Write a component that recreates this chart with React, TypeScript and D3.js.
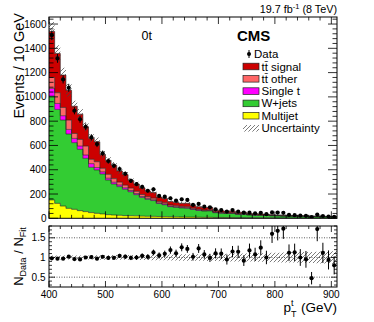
import React from "react";
import * as d3 from "d3";

// bin lower edges (GeV), 10 GeV bins from 400 to 910
const binLow: number[] = d3.range(400, 910, 10);

const dataCounts = [1508,1317,1144,1075,886,815,754,667,611,535,472,433,406,367,309,282,260,227,239,184,178,165,145,156,151,110,118,96,90,74,68,55,68,55,46,46,41,45,34,48,47,45,28,26,22,20,9,31,19,15,12];
const multijet = [151,123,101,82,74,63,55,47,41,36,30,27,25,22,21,20,18,17,16,15,14,13,12,11,10,10,9,8,8,7,7,6,6,5,5,5,4,4,4,4,3,3,3,3,3,2,2,2,2,2,2];
const wjets = [856,774,708,612,549,505,439,373,357,329,285,256,236,217,198,175,154,139,130,107,98,83,78,74,73,63,56,52,53,39,35,34,34,28,29,22,22,21,20,17,17,15,15,13,13,13,12,11,10,10,9];
const singleT = [63,49,36,38,35,27,27,30,20,17,15,14,13,12,10,9,8,8,7,6,6,5,5,5,4,4,4,3,3,3,2,2,2,2,2,2,1,1,1,1,1,1,1,1,1,1,1,1,1,1,1];
const ttOther = [90,88,68,77,41,55,74,36,48,30,32,30,24,22,20,18,16,14,13,11,10,9,8,8,8,7,6,6,6,4,4,4,4,3,3,3,3,2,2,2,2,2,2,2,2,2,1,1,1,1,1];
const ttSignal = [379,324,267,245,224,208,159,174,164,113,115,110,92,87,63,60,54,45,46,36,35,29,28,26,29,24,21,20,21,14,14,12,13,10,11,7,8,8,7,6,5,5,4,4,3,3,3,3,3,2,2];
const relUnc = [0.05,0.05,0.05,0.05,0.05,0.05,0.05,0.05,0.055,0.055,0.055,0.06,0.06,0.06,0.06,0.065,0.065,0.065,0.07,0.07,0.07,0.075,0.075,0.08,0.08,0.08,0.085,0.085,0.09,0.09,0.095,0.095,0.1,0.1,0.1,0.105,0.11,0.11,0.115,0.12,0.12,0.125,0.13,0.13,0.135,0.14,0.14,0.145,0.15,0.155,0.16];

const seriesKeys = ["multijet", "wjets", "singleT", "ttOther", "ttSignal"];
const seriesColors: Record<string, string> = {
  multijet: "#ffff00",
  wjets: "#33cc33",
  singleT: "#ff00ff",
  ttOther: "#ff6666",
  ttSignal: "#cc0000",
};
const legendItems = [
  { label: "tt\u0304 signal", key: "ttSignal" },
  { label: "tt\u0304 other", key: "ttOther" },
  { label: "Single t", key: "singleT" },
  { label: "W+jets", key: "wjets" },
  { label: "Multijet", key: "multijet" },
];
const yMainTicks = [0, 200, 400, 600, 800, 1000, 1200, 1400, 1600];
const yRatioTicks = [0.5, 1, 1.5];
const xTicks = [400, 500, 600, 700, 800, 900];

const FONT = "'Liberation Sans', Arial, Helvetica, sans-serif";

export default function App() {
  const X0 = 49, X1 = 337;
  const x = d3.scaleLinear().domain([400, 910]).range([X0, X1]);
  const y = d3.scaleLinear().domain([0, 1658]).range([218.3, 17]);
  const yr = d3.scaleLinear().domain([0.25, 1.8]).range([287, 226]);

  const rows = binLow.map((lo, i) => ({
    lo,
    multijet: multijet[i],
    wjets: wjets[i],
    singleT: singleT[i],
    ttOther: ttOther[i],
    ttSignal: ttSignal[i],
  }));
  const total = rows.map((r) => r.multijet + r.wjets + r.singleT + r.ttOther + r.ttSignal);
  const stacked = d3.stack<any>().keys(seriesKeys)(rows);

  const withEnd = (pts: [number, number, number][]) => [...pts, [910, pts[pts.length - 1][1], pts[pts.length - 1][2]] as [number, number, number]];

  const areaMain = d3.area<[number, number, number]>()
    .curve(d3.curveStepAfter)
    .x((d) => x(d[0]))
    .y0((d) => y(d[1]))
    .y1((d) => y(d[2]));
  const lineMain = d3.line<[number, number, number]>()
    .curve(d3.curveStepAfter)
    .x((d) => x(d[0]))
    .y((d) => y(d[2]));
  const areaRatio = d3.area<[number, number, number]>()
    .curve(d3.curveStepAfter)
    .x((d) => x(d[0]))
    .y0((d) => yr(d[1]))
    .y1((d) => yr(d[2]));

  const layers = stacked.map((s) => ({
    key: s.key,
    pts: withEnd(s.map((d, i) => [binLow[i], d[0], d[1]] as [number, number, number])),
  }));
  const uncPts = withEnd(binLow.map((lo, i) => [lo, total[i] * (1 - relUnc[i]), total[i] * (1 + relUnc[i])] as [number, number, number]));
  const ratioUncPts = withEnd(binLow.map((lo, i) => [lo, 1 - relUnc[i], 1 + relUnc[i]] as [number, number, number]));

  const minorX = d3.range(400, 911, 20);
  const minorYMain = d3.range(0, 1658, 40);
  const minorYRatio = d3.range(0.3, 1.8001, 0.1);

  return (
    <svg width={374} height={322} style={{ display: "block", position: "absolute", left: 0, top: 0 }} fontFamily={FONT}>
      <defs>
        <pattern id="hatch" patternUnits="userSpaceOnUse" width={4} height={4}>
          <path d="M-1,1 l2,-2 M0,4 l4,-4 M3,5 l2,-2" stroke="#444" strokeWidth={0.7} />
        </pattern>
        <clipPath id="clipMain"><rect x={X0} y={17} width={X1 - X0} height={218.3 - 17} /></clipPath>
        <clipPath id="clipRatio"><rect x={X0} y={226} width={X1 - X0} height={61} /></clipPath>
      </defs>
      <rect width={374} height={322} fill="#fff" />

      {/* main stack */}
      <g clipPath="url(#clipMain)">
        {layers.map((l) => (
          <path key={l.key} d={areaMain(l.pts) || ""} fill={seriesColors[l.key]} />
        ))}
        {layers.map((l) => (
          <path key={l.key + "o"} d={lineMain(l.pts) || ""} fill="none" stroke="#222" strokeWidth={0.6} />
        ))}
        <path d={areaMain(uncPts) || ""} fill="url(#hatch)" />
        {dataCounts.map((d, i) => {
          const cx = x(binLow[i] + 5);
          const e = Math.sqrt(d);
          return (
            <g key={i}>
              <line x1={cx} x2={cx} y1={y(d - e)} y2={y(d + e)} stroke="#000" strokeWidth={1} />
              <circle cx={cx} cy={y(d)} r={2.1} fill="#000" />
            </g>
          );
        })}
      </g>
      <rect x={X0} y={17} width={X1 - X0} height={218.3 - 17} fill="none" stroke="#000" strokeWidth={1} />

      {/* main ticks */}
      {minorYMain.map((v) => {
        const major = v % 200 === 0;
        const L = major ? 9 : 4.5;
        return (
          <g key={"ym" + v}>
            <line x1={X0} x2={X0 + L} y1={y(v)} y2={y(v)} stroke="#000" strokeWidth={0.8} />
            <line x1={X1} x2={X1 - L} y1={y(v)} y2={y(v)} stroke="#000" strokeWidth={0.8} />
          </g>
        );
      })}
      {minorX.map((v) => {
        const major = v % 100 === 0;
        const L = major ? 7 : 3.5;
        return (
          <g key={"xm" + v}>
            <line x1={x(v)} x2={x(v)} y1={218.3} y2={218.3 - L} stroke="#000" strokeWidth={0.8} />
            <line x1={x(v)} x2={x(v)} y1={17} y2={17 + L} stroke="#000" strokeWidth={0.8} />
          </g>
        );
      })}
      {yMainTicks.map((v) => (
        <text key={"yl" + v} x={46.5} y={y(v)} dy="0.35em" textAnchor="end" fontSize={10}>{v}</text>
      ))}

      {/* ratio panel */}
      <g clipPath="url(#clipRatio)">
        {yRatioTicks.map((v) => (
          <line key={"dl" + v} x1={X0} x2={X1} y1={yr(v)} y2={yr(v)} stroke="#333" strokeWidth={0.8} strokeDasharray="1,1.5" />
        ))}
        <path d={areaRatio(ratioUncPts) || ""} fill="url(#hatch)" />
        {dataCounts.map((d, i) => {
          const cx = x(binLow[i] + 5);
          const r = d / total[i];
          const e = Math.sqrt(d) / total[i];
          return (
            <g key={"r" + i}>
              <line x1={cx} x2={cx} y1={yr(r - e)} y2={yr(r + e)} stroke="#000" strokeWidth={1} />
              <circle cx={cx} cy={yr(r)} r={2.1} fill="#000" />
            </g>
          );
        })}
      </g>
      <rect x={X0} y={226} width={X1 - X0} height={61} fill="none" stroke="#000" strokeWidth={1} />
      {minorYRatio.map((v) => {
        const major = Math.abs(v * 2 - Math.round(v * 2)) < 1e-6;
        const L = major ? 6 : 3;
        return (
          <g key={"yr" + v.toFixed(2)}>
            <line x1={X0} x2={X0 + L} y1={yr(v)} y2={yr(v)} stroke="#000" strokeWidth={0.8} />
            <line x1={X1} x2={X1 - L} y1={yr(v)} y2={yr(v)} stroke="#000" strokeWidth={0.8} />
          </g>
        );
      })}
      {minorX.map((v) => {
        const major = v % 100 === 0;
        const L = major ? 6 : 3;
        return (
          <g key={"xr" + v}>
            <line x1={x(v)} x2={x(v)} y1={287} y2={287 - L} stroke="#000" strokeWidth={0.8} />
            <line x1={x(v)} x2={x(v)} y1={226} y2={226 + L} stroke="#000" strokeWidth={0.8} />
          </g>
        );
      })}
      {yRatioTicks.map((v) => (
        <text key={"rl" + v} x={45.5} y={yr(v)} dy="0.35em" textAnchor="end" fontSize={10}>{v}</text>
      ))}
      {xTicks.map((v) => (
        <text key={"xl" + v} x={x(v)} y={298} textAnchor="middle" fontSize={10}>{v}</text>
      ))}

      {/* axis titles */}
      <text transform="translate(23.5,13) rotate(-90)" textAnchor="end" fontSize={14.5}>Events / 10 GeV</text>
      <text transform="translate(23,256.5) rotate(-90)" textAnchor="middle" fontSize={13}>
        N<tspan fontSize={9} dy={3}>Data</tspan><tspan dy={-3}> / N</tspan><tspan fontSize={9} dy={3}>Fit</tspan>
      </text>
      <text x={283.5} y={312} fontSize={13.5}>p</text>
      <text x={291} y={317} fontSize={9}>T</text>
      <text x={291} y={305.5} fontSize={9}>t</text>
      <text x={337} y={312} textAnchor="end" fontSize={13.5}>(GeV)</text>

      {/* header texts */}
      <text x={337} y={12.7} textAnchor="end" fontSize={10.8}>
        19.7 fb<tspan fontSize={7.5} dy={-4}>-1</tspan><tspan dy={4}> (8 TeV)</tspan>
      </text>
      <text x={146.7} y={40} textAnchor="middle" fontSize={12.5}>0t</text>
      <text x={237} y={40.7} fontSize={15} fontWeight="bold">CMS</text>

      {/* legend */}
      <g>
        <line x1={249} x2={249} y1={50} y2={58} stroke="#000" strokeWidth={1} />
        <circle cx={249} cy={54} r={2} fill="#000" />
        <text x={254} y={54} dy="0.35em" fontSize={11.5}>Data</text>
        {legendItems.map((it, i) => {
          const cy = 66.5 + i * 12.3;
          return (
            <g key={it.key}>
              <rect x={243} y={cy - 3.3} width={16} height={6.6} fill={seriesColors[it.key]} stroke="#222" strokeWidth={0.7} />
              <text x={261.5} y={cy} dy="0.35em" fontSize={11.5}>{it.label}</text>
            </g>
          );
        })}
        <rect x={243} y={128.3 - 3.3} width={16} height={6.6} fill="url(#hatch)" />
        <text x={261.5} y={128.3} dy="0.35em" fontSize={11.5}>Uncertainty</text>
      </g>
    </svg>
  );
}
